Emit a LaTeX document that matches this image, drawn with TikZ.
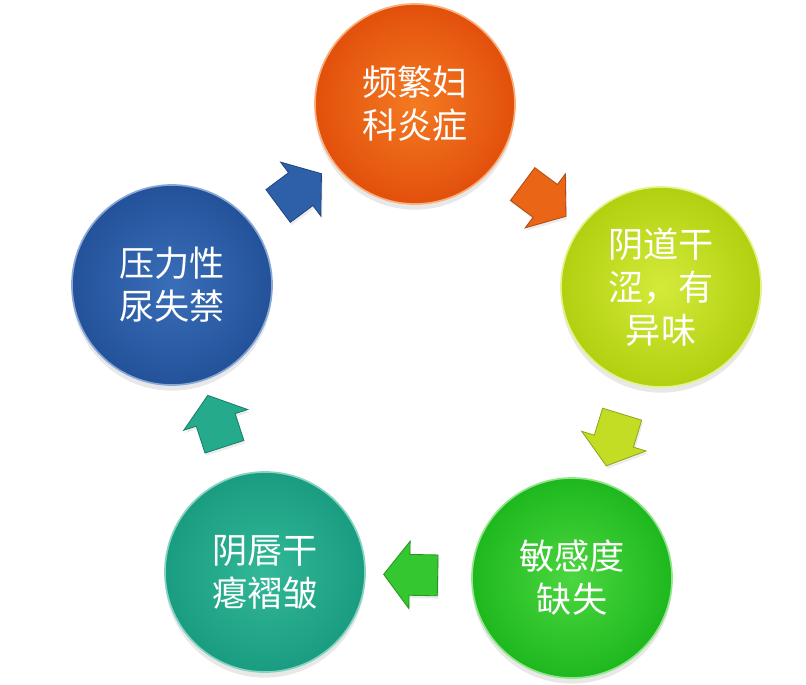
\documentclass[tikz,border=0pt]{standalone}
\usepackage{fontspec}
\newfontfamily\cjk{Noto Sans CJK SC}
\usepackage{tikz}
\usetikzlibrary{shapes.arrows,shadows}

\definecolor{fklight}{HTML}{F47A22}
\definecolor{fkdark}{HTML}{E2500C}
\definecolor{ydlight}{HTML}{D4EA3A}
\definecolor{yddark}{HTML}{B2D010}
\definecolor{mglight}{HTML}{4CD640}
\definecolor{mgdark}{HTML}{1EB81E}
\definecolor{yclight}{HTML}{32B898}
\definecolor{ycdark}{HTML}{1A9C80}
\definecolor{nylight}{HTML}{3A6EB8}
\definecolor{nydark}{HTML}{23529A}

\begin{document}
\begin{tikzpicture}[
  x=0.025cm, y=-0.025cm,
  font=\cjk\fontsize{25}{30.5}\selectfont,
  bubble/.style 2 args={circle, minimum size=5cm, inner sep=0pt,
             align=center, text=white,
             shading=radial, inner color=#1, outer color=#2,
             draw=#1!60!white, line width=1.2pt,
             drop shadow={opacity=0.18, shadow xshift=0pt, shadow yshift=-4pt}},
  blk/.style={single arrow, sloped, allow upside down,
             minimum height=1.35cm, inner xsep=0pt, inner ysep=0.5cm,
             single arrow head extend=0.33cm, single arrow tip angle=105,
             fill=#1, draw=#1!75!black, line width=0.6pt,
             drop shadow={opacity=0.15, shadow xshift=1pt, shadow yshift=-2pt}},
]
  \useasboundingbox (0,0) rectangle (806,684);

  \node[bubble={fklight}{fkdark}] (fk) at (415,104) {频繁妇\\科炎症};
  \node[bubble={ydlight}{yddark}] (yd) at (661,287) {阴道干\\涩，有\\异味};
  \node[bubble={mglight}{mgdark}] (mg) at (572,578) {敏感度\\缺失};
  \node[bubble={yclight}{ycdark}] (yc) at (265,572) {阴唇干\\瘪褶皱};
  \node[bubble={nylight}{nydark}] (ny) at (172,285) {压力性\\尿失禁};

  \path (fk) -- node[blk=fklight!50!fkdark] (fk2yd) {} (yd);
  \path (yd) -- node[blk=ydlight!50!yddark] (yd2mg) {} (mg);
  \path (mg) -- node[blk=mglight!50!mgdark] (mg2yc) {} (yc);
  \path (yc) -- node[blk=yclight!50!ycdark] (yc2ny) {} (ny);
  \path (ny) -- node[blk=nylight!50!nydark] (ny2fk) {} (fk);
\end{tikzpicture}
\end{document}
